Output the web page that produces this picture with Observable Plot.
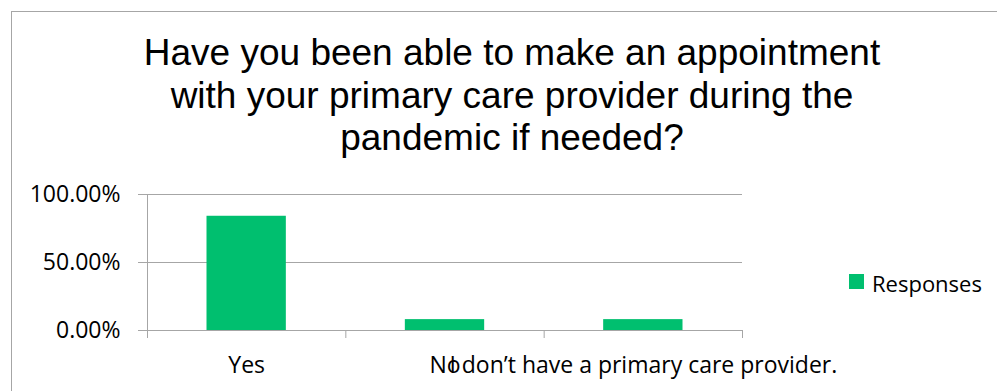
<!DOCTYPE html>
<html>
<head>
<meta charset="utf-8">
<script src="https://cdn.jsdelivr.net/npm/d3@7"></script>
<script src="https://cdn.jsdelivr.net/npm/@observablehq/plot@0.6"></script>
<style>
  html, body { margin: 0; padding: 0; background: #fff; }
  #chart { position: relative; width: 997px; height: 391px; overflow: hidden; background: #fff; }
  #frame { position: absolute; left: 11px; top: 11px; width: 1100px; height: 500px;
           border: 1px solid #a6a6a6; box-sizing: border-box; }
  #title { position: absolute; left: 0; top: 32px; width: 1024px; text-align: center;
           font-family: "Liberation Sans", Arial, sans-serif; font-size: 37px; line-height: 42.7px; color: #000; }
  #plot { position: absolute; left: 0; top: 0; }
  #legend { position: absolute; left: 849px; top: 268px; height: 30px;
            font-family: "Open Sans", sans-serif; font-size: 22px; line-height: 30px; color: #000; }
  #legend .swatch { position: absolute; left: 0; top: 6px; width: 15px; height: 15px; }
  #legend .label { position: absolute; left: 23px; top: 0; white-space: nowrap; }
</style>
</head>
<body>
<div id="chart">
  <div id="frame"></div>
  <div id="plot"></div>
  <div id="title"></div>
  <div id="legend"></div>
</div>
<script>
// Survey answers and their share of responses
const categories = ["Yes", "No", "I don’t have a primary care provider."];
const responses = [0.84, 0.08, 0.08];
const seriesName = "Responses";
const yTicks = [0, 0.5, 1];
const titleLines = [
  "Have you been able to make an appointment",
  "with your primary care provider during the",
  "pandemic if needed?"
];

const barColor = "#00bf6f";
const gridColor = "#a6a6a6";
const barWidthRatio = 0.4; // share of each category slot covered by its bar

const rows = categories.map((name, i) => ({name, index: i, value: responses[i]}));
const boundaries = d3.range(0, categories.length + 1);
const centers = d3.range(categories.length).map(i => i + 0.5);

const chart = Plot.plot({
  width: 997,
  height: 391,
  marginLeft: 147,
  marginRight: 255,
  marginTop: 194,
  marginBottom: 61,
  x: {domain: [0, categories.length], axis: null, label: null},
  y: {domain: [0, 1], axis: null, label: null},
  style: {fontFamily: "'Open Sans', sans-serif", fontSize: "22px", color: "#000", background: "transparent", overflow: "visible"},
  marks: [
    Plot.ruleY(yTicks, {stroke: gridColor, strokeWidth: 1}),
    Plot.ruleX([0], {y1: 0, y2: 1, stroke: gridColor, strokeWidth: 1}),
    Plot.axisY({ticks: yTicks, tickFormat: d3.format(".2%"), tickSize: 9, tickPadding: 18,
                fontSize: 23, label: null, stroke: gridColor, strokeOpacity: 1}),
    Plot.rectY(rows, {
      x1: d => d.index + (1 - barWidthRatio) / 2,
      x2: d => d.index + (1 + barWidthRatio) / 2,
      y1: 0,
      y2: "value",
      fill: barColor
    }),
    Plot.axisX({ticks: boundaries, tickSize: 8, tickFormat: () => "", label: null, stroke: gridColor, strokeOpacity: 1}),
    Plot.axisX({ticks: centers, tickSize: 0, tickPadding: 26, fontSize: 23, label: null,
                tickFormat: v => categories[Math.floor(v)]})
  ]
});
document.getElementById("plot").appendChild(chart);

const title = document.getElementById("title");
titleLines.forEach(line => {
  const div = document.createElement("div");
  div.textContent = line;
  title.appendChild(div);
});

const legend = document.getElementById("legend");
const swatch = document.createElement("span");
swatch.className = "swatch";
swatch.style.background = barColor;
const label = document.createElement("span");
label.className = "label";
label.textContent = seriesName;
legend.append(swatch, label);
</script>
</body>
</html>
